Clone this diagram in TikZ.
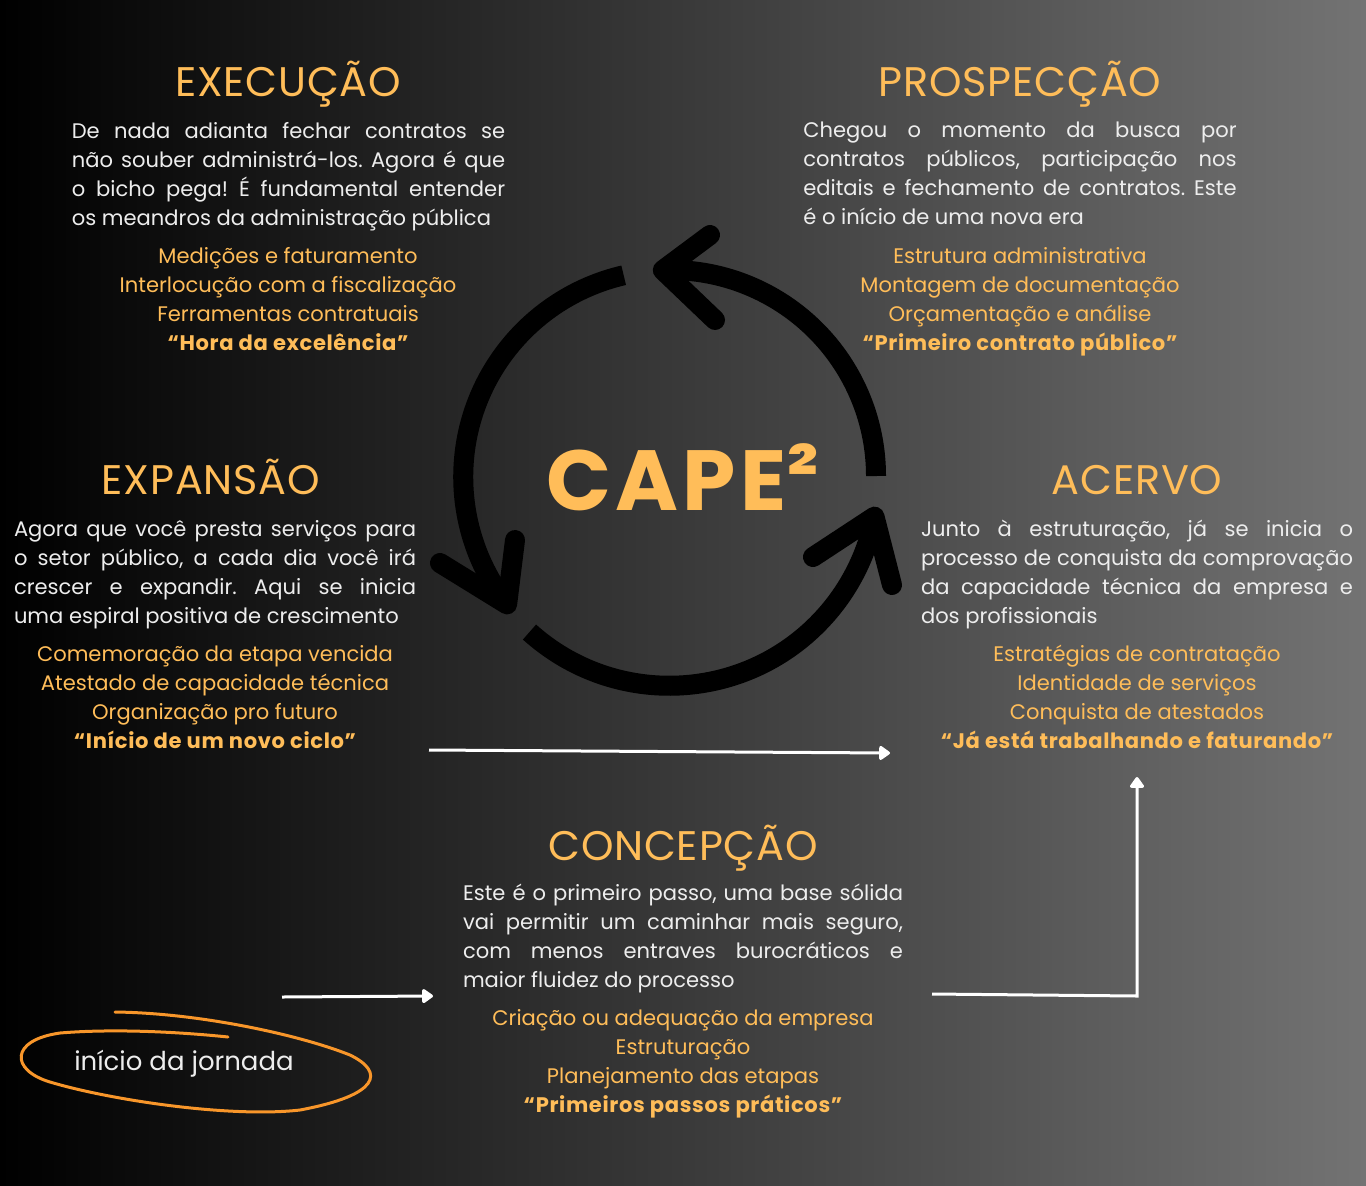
\documentclass[tikz,border=0pt]{standalone}
\usepackage{fontspec}
\setmainfont{Poppins}
\usetikzlibrary{arrows.meta}
\definecolor{capeorange}{HTML}{FFBD59}
\definecolor{txtwhite}{HTML}{EDEDED}
\definecolor{bgright}{HTML}{737373}
\definecolor{penorange}{HTML}{F8962A}
\newcommand\motto[1]{{\bfseries\addfontfeature{LetterSpace=3}#1}}
\frenchspacing

\begin{document}
\begin{tikzpicture}[x=0.75pt,y=-0.75pt,
  title/.style={font=\fontsize{31}{36}\selectfont\addfontfeature{LetterSpace=2}, text=capeorange, anchor=base, inner sep=0pt},
  body/.style={font=\fontsize{15.8}{21.75}\selectfont, text=txtwhite, align=justify, inner sep=0pt},
  items/.style={font=\fontsize{15.8}{21.75}\selectfont, text=capeorange, align=center, inner sep=0pt},
  flow/.style={draw=white, line width=2.25pt, -{Triangle[width=12pt,length=9pt,round]}},
  loop/.style={draw=black, line width=15pt},
  barb/.style={draw=black, line width=15pt, line cap=round, line join=round}
]
\shade[left color=black, right color=bgright] (0,0) rectangle (1366,1185);

% ciclo
\coordinate (hub) at (670,476);
\draw[loop] ([shift={(0:206)}]hub) arc[start angle=0, end angle=-92, radius=206] coordinate (tip1);
\draw[loop] ([shift={(257:206)}]hub) arc[start angle=257, end angle=142, radius=207] coordinate (tip2);
\draw[loop] ([shift={(132:210)}]hub) arc[start angle=132, end angle=11, radius=209] coordinate (tip3);
\coordinate (a1) at (710,235);
\coordinate (b1) at (715,320);
\coordinate (a2) at (440,563);
\coordinate (b2) at (515,540);
\coordinate (a3) at (813,557);
\coordinate (b3) at (892,585);
\draw[barb] (a1) -- (tip1) -- (b1);
\draw[barb] (a2) -- (tip2) -- (b2);
\draw[barb] (a3) -- (tip3) -- (b3);
\node[font=\fontsize{64}{64}\selectfont\bfseries\addfontfeature{LetterSpace=5}, text=capeorange, anchor=base west, inner sep=0pt] (cape) at (546,510) {CAPE\raisebox{4pt}{²}};

% execucao
\node[title] (texec) at (288,96) {EXECUÇÃO};
\node[body, text width=325pt] (bexec) at (288.5,177) {De nada adianta fechar contratos se\linebreak não souber administrá-los. Agora é que\linebreak o bicho pega! É fundamental entender\linebreak os meandros da administração pública};
\node[items] (iexec) at (288,299) {Medições e faturamento\\Interlocução com a fiscalização\\Ferramentas contratuais\\\motto{“Hora da excelência”}};

% prospeccao
\node[title] (tpros) at (1020,96) {PROSPECÇÃO};
\node[body, text width=325pt] (bpros) at (1020,173) {Chegou o momento da busca por\linebreak contratos públicos, participação nos\linebreak editais e fechamento de contratos. Este\linebreak é o início de uma nova era};
\node[items] (ipros) at (1020,302) {Estrutura administrativa\\Montagem de documentação\\Orçamentação e análise\\\motto{“Primeiro contrato público”}};

% expansao
\node[title] (texpa) at (211,494) {EXPANSÃO};
\node[body, text width=301.5pt] (bexpa) at (215,575) {Agora que você presta serviços para\linebreak o setor público, a cada dia você irá\linebreak crescer e expandir. Aqui se inicia\linebreak uma espiral positiva de crescimento};
\node[items] (iexpa) at (215,697) {Comemoração da etapa vencida\\Atestado de capacidade técnica\\Organização pro futuro\\\motto{“Início de um novo ciclo”}};

% acervo
\node[title] (tacer) at (1137,494) {ACERVO};
\node[body, text width=324pt] (bacer) at (1137,574) {Junto à estruturação, já se inicia o\linebreak processo de conquista da comprovação\linebreak da capacidade técnica da empresa e\linebreak dos profissionais};
\node[items] (iacer) at (1137,697) {Estratégias de contratação\\Identidade de serviços\\Conquista de atestados\\\motto{“Já está trabalhando e faturando”}};

% concepcao
\node[title] (tconc) at (683,860) {CONCEPÇÃO};
\node[body, text width=330pt] (bconc) at (683,938) {Este é o primeiro passo, uma base sólida\linebreak vai permitir um caminhar mais seguro,\linebreak com menos entraves burocráticos e\linebreak maior fluidez do processo};
\node[items] (iconc) at (683,1064) {Criação ou adequação da empresa\\Estruturação\\Planejamento das etapas\\\motto{“Primeiros passos práticos”}};

% inicio
\node[font=\fontsize{19.5}{22}\selectfont, text=txtwhite, anchor=base west, inner sep=0pt] (start) at (74,1070) {início da jornada};
\draw[penorange, line width=2.25pt, line cap=round] (115,1012) .. controls (200,1013) and (300,1035) .. (350,1055) .. controls (385,1072) and (380,1095) .. (300,1110) .. controls (230,1118) and (110,1100) .. (50,1082) .. controls (10,1070) and (10,1040) .. (60,1033) .. controls (120,1028) and (190,1033) .. (228,1037);

% setas
\coordinate (s1) at (282,997);
\coordinate (s2) at (433,996);
\coordinate (s3) at (932,994);
\coordinate (s4) at (1137,996);
\coordinate (s5) at (1137,777);
\coordinate (s6) at (429,750);
\coordinate (s7) at (890,753);
\draw[flow] (s1) -- (s2);
\draw[flow] (s3) -- (s4) -- (s5);
\draw[flow] (s6) -- (s7);

\end{tikzpicture}
\end{document}
